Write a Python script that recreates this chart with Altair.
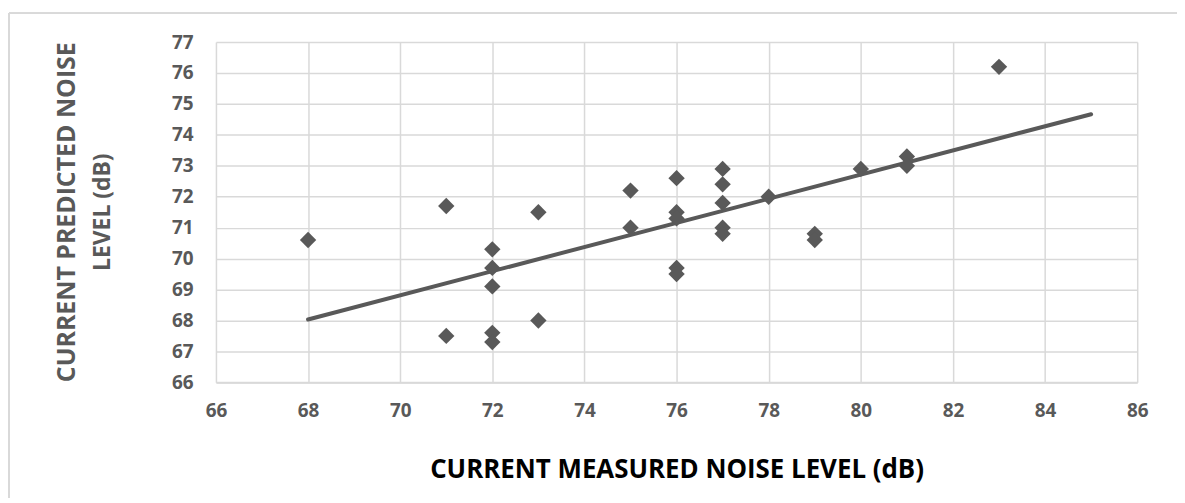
import altair as alt
import pandas as pd

measured = [68, 71, 71, 72, 72, 72, 72, 72, 73, 73, 75, 75,
            76, 76, 76, 76, 76, 77, 77, 77, 77, 77, 78, 79, 79, 80, 81, 81, 83]
predicted = [70.6, 71.7, 67.5, 70.3, 69.7, 69.1, 67.6, 67.3, 71.5, 68.0, 72.2, 71.0,
             72.6, 71.5, 71.3, 69.7, 69.5, 72.9, 72.4, 71.8, 71.0, 70.8, 72.0, 70.8, 70.6, 72.9, 73.3, 73.0, 76.2]
x_ticks = [66, 68, 70, 72, 74, 76, 78, 80, 82, 84, 86]
y_ticks = [66, 67, 68, 69, 70, 71, 72, 73, 74, 75, 76, 77]
y_title_1 = "CURRENT PREDICTED NOISE"
y_title_2 = "LEVEL (dB)"

df = pd.DataFrame({"measured": measured, "predicted": predicted})

FONT = "Open Sans"
GRAY = "#595959"
GRID = "#d9d9d9"
W, H = 926, 342

xs = alt.Scale(domain=[66, 86], nice=False, zero=False)
ys = alt.Scale(domain=[66, 77], nice=False, zero=False)

common = dict(grid=True, gridColor=GRID, gridWidth=1.5, ticks=False,
              labelFont=FONT, labelFontSize=19, labelFontWeight="bold", labelColor=GRAY,
              labelOverlap=False, labelFlush=False)

x_axis = alt.Axis(values=x_ticks, title="CURRENT MEASURED NOISE LEVEL (dB)",
                  labelPadding=19, titleY=88, titleX=W / 2, titleBaseline="middle",
                  titleFont=FONT, titleFontSize=26, titleFontWeight="bold",
                  titleColor="#000000", domain=True, domainColor=GRID, domainWidth=2, **common)
y_axis = alt.Axis(values=y_ticks, title=None, labelPadding=23, domain=False, **common)

base = alt.Chart(df)

points = base.mark_point(shape="diamond", filled=True, size=270, color=GRAY, opacity=1).encode(
    x=alt.X("measured:Q", scale=xs, axis=x_axis),
    y=alt.Y("predicted:Q", scale=ys, axis=y_axis),
)

trend = base.transform_regression("measured", "predicted", extent=[68, 85]).mark_line(
    color=GRAY, strokeWidth=4, strokeCap="round"
).encode(
    x=alt.X("measured:Q", scale=xs, axis=x_axis),
    y=alt.Y("predicted:Q", scale=ys, axis=y_axis),
)

title_df = pd.DataFrame({"t1": [y_title_1], "t2": [y_title_2]})
ytitle1 = alt.Chart(title_df).mark_text(
    angle=270, font=FONT, fontSize=25, fontWeight="bold", color=GRAY, baseline="middle", align="center"
).encode(text="t1:N", x=alt.value(-150), y=alt.value(H / 2))
ytitle2 = alt.Chart(title_df).mark_text(
    angle=270, font=FONT, fontSize=23, fontWeight="bold", color=GRAY, baseline="middle", align="center"
).encode(text="t2:N", x=alt.value(-113), y=alt.value(H / 2))

border_top = base.mark_rule(color=GRID, strokeWidth=1.5).encode(
    x=alt.value(-208), x2=alt.value(W + 60), y=alt.value(-29)
)
border_left = base.mark_rule(color=GRID, strokeWidth=1.5).encode(
    x=alt.value(-208), y=alt.value(-29), y2=alt.value(H + 130)
)

chart = alt.layer(trend, points, border_top, border_left, ytitle1, ytitle2).properties(
    width=W, height=H,
    autosize=alt.AutoSizeParams(type="none"),
    padding={"left": 209, "top": 33, "right": 40, "bottom": 115},
    background="white",
).configure_view(stroke=None)

chart.save("out.html", embed_options={"renderer": "svg", "actions": False})
